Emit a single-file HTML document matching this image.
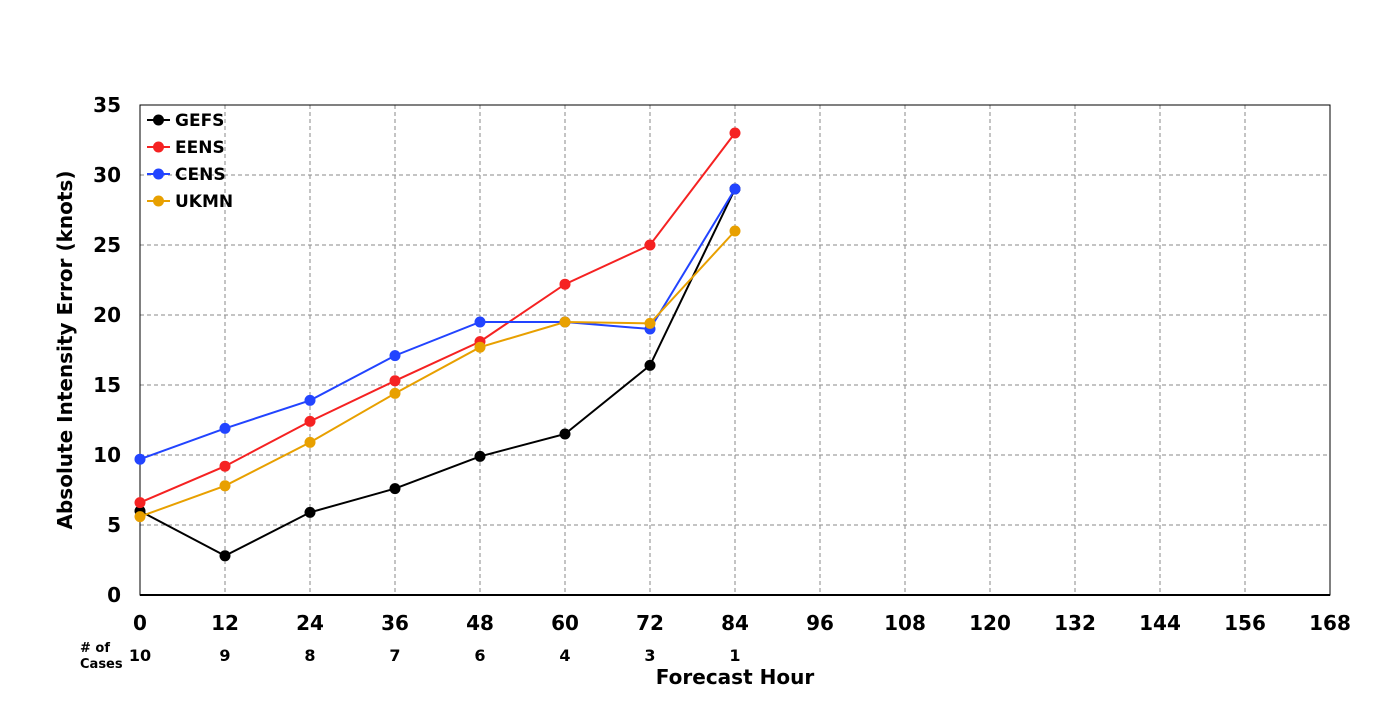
<!DOCTYPE html>
<html><head><meta charset="utf-8"><style>
body{margin:0;background:#fff;width:1400px;height:700px;overflow:hidden}
text{font-family:"DejaVu Sans","Liberation Sans",sans-serif;font-weight:bold}
</style></head><body>
<svg id="chart" width="1400" height="700" xmlns="http://www.w3.org/2000/svg">
<g id="grid"></g>
<g id="axes"></g>
<g id="series"></g>
<g id="legend"></g>
<text x="72" y="350" font-size="20" text-anchor="middle" transform="rotate(-90 72 350)">Absolute Intensity Error (knots)</text>
<text x="735" y="684" font-size="20" text-anchor="middle">Forecast Hour</text>
<text x="80" y="652" font-size="13">
<tspan x="80" y="652"># of</tspan><tspan x="80" y="668">Cases</tspan></text>
</svg>
<script>
const hours=[0,12,24,36,48,60,72,84];
const cases=[10,9,8,7,6,4,3,1];
const xTicks=[0,12,24,36,48,60,72,84,96,108,120,132,144,156,168];
const yTicks=[0,5,10,15,20,25,30,35];
const seriesNames=["GEFS","EENS","CENS","UKMN"];
const seriesColors=["#000000","#f52222","#2244ff","#e8a000"];
const gefs=[6.0,2.8,5.9,7.6,9.9,11.5,16.4,29];
const eens=[6.6,9.2,12.4,15.3,18.1,22.2,25,33];
const cens=[9.7,11.9,13.9,17.1,19.5,19.5,19,29];
const ukmn=[5.6,7.8,10.9,14.4,17.7,19.5,19.4,26];
const allSeries=[gefs,eens,cens,ukmn];
const NS="http://www.w3.org/2000/svg";
const L=140,R=1330,T=105,B=595;
const xs=v=>L+(v-0)/168*(R-L);
const ys=v=>B-(v/35)*(B-T);
function mk(tag,attrs,parent){const e=document.createElementNS(NS,tag);for(const k in attrs)e.setAttribute(k,attrs[k]);parent.appendChild(e);return e;}
const grid=document.getElementById('grid'),axes=document.getElementById('axes'),ser=document.getElementById('series'),leg=document.getElementById('legend');
xTicks.forEach(t=>{
 if(t>0&&t<168){const l=mk('line',{x1:xs(t),x2:xs(t),y1:T,y2:B,stroke:'#888','stroke-dasharray':'4,3','stroke-width':1},grid);
 
 }
 const tx=mk('text',{x:xs(t),y:630,'font-size':20,'text-anchor':'middle'},axes);tx.textContent=t;
 
 
});
yTicks.forEach(t=>{
 if(t>0&&t<35){const l=mk('line',{x1:L,x2:R,y1:ys(t),y2:ys(t),stroke:'#888','stroke-dasharray':'4,3','stroke-width':1},grid);
 
 }
 const tx=mk('text',{x:121,y:ys(t)+7,'font-size':20,'text-anchor':'end'},axes);tx.textContent=t;
 
 
});
hours.forEach((h,i)=>{const tx=mk('text',{x:xs(h),y:661,'font-size':16,'text-anchor':'middle'},axes);tx.textContent=cases[i];
 
 });
const fr=mk('rect',{x:L,y:T,width:R-L,height:B-T,fill:'none',stroke:'#000','stroke-width':1},axes);


const xa=mk('line',{x1:L,x2:R,y1:B,y2:B,stroke:'#000','stroke-width':2},axes);


allSeries.forEach((d,si)=>{
 const c=seriesColors[si];
 const pl=mk('polyline',{points:d.map((v,i)=>xs(hours[i])+','+ys(v)).join(' '),fill:'none',stroke:c,'stroke-width':2},ser);
 
 
 d.forEach((v,i)=>{const p=mk('circle',{cx:xs(hours[i]),cy:ys(v),r:5.5,fill:c},ser);
  
  });
 const y=120+si*27;
 const g=mk('g',{},leg);
 
 
 mk('line',{x1:147,x2:170,y1:y,y2:y,stroke:c,'stroke-width':2},g);
 mk('circle',{cx:158.5,cy:y,r:5.5,fill:c},g);
 const t=mk('text',{x:175,y:y+6,'font-size':17},g);t.textContent=seriesNames[si];
});
</script>
</body></html>
